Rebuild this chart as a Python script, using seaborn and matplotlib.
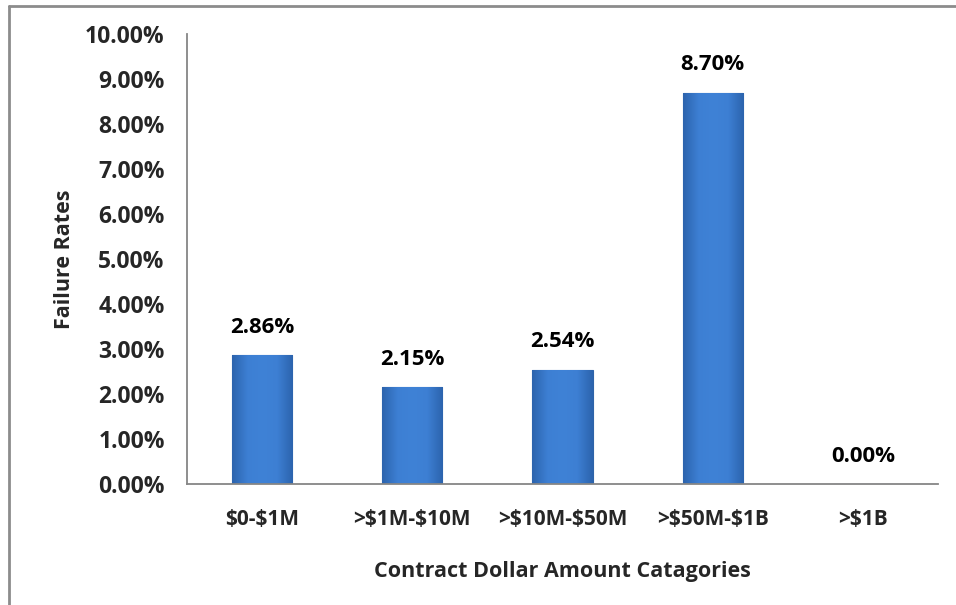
import matplotlib
matplotlib.use("Agg")
import matplotlib.pyplot as plt
from matplotlib.lines import Line2D
from matplotlib.ticker import FuncFormatter, MultipleLocator
from matplotlib.colors import LinearSegmentedColormap
import numpy as np
import seaborn as sns
import pandas as pd

categories = ["$0-$1M", ">$1M-$10M", ">$10M-$50M", ">$50M-$1B", ">$1B"]
failure_rates = [2.86, 2.15, 2.54, 8.70, 0.00]

sns.set_style("white")
plt.rcParams["font.family"] = ["Open Sans", "DejaVu Sans"]
plt.rcParams["font.weight"] = "bold"

df = pd.DataFrame({"category": categories, "rate": failure_rates})

fig = plt.figure(figsize=(9.56, 6.05), dpi=100)
ax = fig.add_axes([0.1956, 0.2, 0.7856, 0.7438])

sns.barplot(data=df, x="category", y="rate", ax=ax, width=0.4,
            color="#3A78CC", edgecolor="#2E63A8", linewidth=0.8, saturation=1)

ax.set_ylim(0, 10)
ax.set_xlim(-0.5, len(categories) - 0.5)

# soft horizontal shading inside each bar (darker sides, lighter middle)
shade = LinearSegmentedColormap.from_list(
    "bevel", ["#2C64AE", "#3D7FD3", "#3F82D6", "#3D7FD3", "#2C64AE"])
grad = np.linspace(0, 1, 64).reshape(1, -1)
for patch in ax.patches:
    x0, y0 = patch.get_x(), patch.get_y()
    w, h = patch.get_width(), patch.get_height()
    if h <= 0:
        continue
    im = ax.imshow(grad, cmap=shade, aspect="auto", extent=[x0, x0 + w, y0, y0 + h],
                   zorder=patch.get_zorder() + 0.1, interpolation="bicubic")
    im.set_clip_path(patch)
ax.set_xlim(-0.5, len(categories) - 0.5)
ax.set_ylim(0, 10)

ax.yaxis.set_major_locator(MultipleLocator(1))
ax.yaxis.set_major_formatter(FuncFormatter(lambda v, p: f"{v:.2f}%"))

for spine in ["top", "right"]:
    ax.spines[spine].set_visible(False)
for spine in ["left", "bottom"]:
    ax.spines[spine].set_color("#868686")
    ax.spines[spine].set_linewidth(1.3)

# category boundary ticks on the x axis
ax.set_xticks([i - 0.5 for i in range(len(categories) + 1)], minor=True)
ax.tick_params(axis="x", which="minor", direction="out", length=6,
               color="#868686", width=1.3)
ax.tick_params(axis="x", which="major", length=0, pad=18, labelsize=15)
ax.tick_params(axis="y", direction="out", length=7, color="#868686",
               width=1.3, pad=9, labelsize=16.5)
ax.set_xticks(range(len(categories)))
ax.set_xticklabels(categories, fontweight="bold")
for lbl in ax.get_xticklabels():
    lbl.set_parse_math(False)
for lbl in ax.get_yticklabels():
    lbl.set_fontweight("bold")

ax.set_xlabel("Contract Dollar Amount Catagories", fontsize=15.5,
              fontweight="bold", labelpad=22)
ax.set_ylabel("Failure Rates", fontsize=15.5, fontweight="bold", labelpad=7)

for i, v in enumerate(failure_rates):
    ax.annotate(f"{v:.2f}%", (i, v), xytext=(0, 20), textcoords="offset points",
                ha="center", va="center", fontsize=16, fontweight="bold",
                color="black")

# outer chart frame (left and top edges)
fig.add_artist(Line2D([9 / 956, 9 / 956], [0, 1 - 5.5 / 605],
                      transform=fig.transFigure, color="#8C8C8C", lw=2))
fig.add_artist(Line2D([9 / 956, 1], [1 - 5.5 / 605, 1 - 5.5 / 605],
                      transform=fig.transFigure, color="#8C8C8C", lw=2))

fig.savefig("out.png", dpi=100)
